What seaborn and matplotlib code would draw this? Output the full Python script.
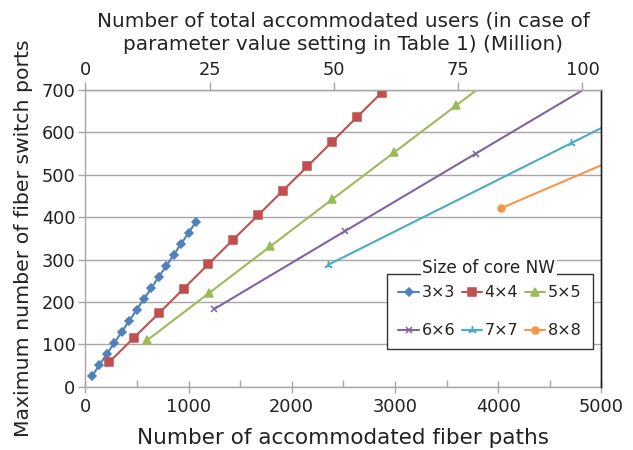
import seaborn as sns
import matplotlib.pyplot as plt
from matplotlib.ticker import MultipleLocator

# values (fiber paths, switch ports)
paths_3x3 = [64, 136, 208, 280, 352, 424, 496, 568, 640, 712, 784, 856, 928, 1000, 1072]
ports_3x3 = [25, 51, 77, 103, 129, 155, 181, 207, 233, 259, 285, 311, 337, 363, 389]
paths_4x4 = [232, 472, 712, 952, 1192, 1432, 1672, 1912, 2152, 2392, 2632, 2872]
ports_4x4 = [58, 116, 173, 231, 289, 347, 404, 462, 520, 578, 636, 694]
paths_5x5 = [596, 1194, 1792, 2392, 2994, 3596, 4196]
ports_5x5 = [109, 220, 331, 442, 553, 664, 775]
paths_6x6 = [1247, 2516, 3783, 5050]
ports_6x6 = [183, 367, 550, 733]
paths_7x7 = [2349, 4703, 7057]
ports_7x7 = [287, 574, 861]
paths_8x8 = [4028, 8056]
ports_8x8 = [421, 842]

series_names = ["3×3", "4×4", "5×5", "6×6", "7×7", "8×8"]
series_x = [paths_3x3, paths_4x4, paths_5x5, paths_6x6, paths_7x7, paths_8x8]
series_y = [ports_3x3, ports_4x4, ports_5x5, ports_6x6, ports_7x7, ports_8x8]
colors = ["#4F81BD", "#C0504D", "#9BBB59", "#8064A2", "#4BACC6", "#F79646"]
markers = ["D", "s", "^", "x", (3, 2, 0), "o"]
msizes = [3.8, 5.2, 5.5, 5, 6, 5]

sns.set_style("white")
plt.rcParams['font.family'] = ['DejaVu Sans']
text_color = "#222222"
grid_color = "#a6a6a6"

fig = plt.figure(figsize=(6.33, 4.5), dpi=100)
ax = fig.add_axes([0.1348, 0.1407, 0.8152, 0.6593])

for name, xs, ys, c, m, ms in zip(series_names, series_x, series_y, colors, markers, msizes):
    sns.lineplot(x=xs, y=ys, ax=ax, color=c, marker=m, markersize=ms, linewidth=1.5,
                 markeredgecolor=c, markeredgewidth=1.1, label=name, sort=False)

ax.set_xlim(0, 5000)
ax.set_ylim(0, 700)
ax.xaxis.set_major_locator(MultipleLocator(1000))
ax.xaxis.set_minor_locator(MultipleLocator(500))
ax.yaxis.set_major_locator(MultipleLocator(100))
ax.yaxis.grid(True, color=grid_color, linewidth=1)
ax.set_axisbelow(True)

for s in ["left", "bottom", "top"]:
    ax.spines[s].set_color(grid_color)
    ax.spines[s].set_linewidth(1)
ax.spines["right"].set_color("#222222")
ax.spines["right"].set_linewidth(1)

ax.tick_params(axis="x", which="major", direction="inout", length=9, width=1, color=grid_color,
               labelsize=12.8, labelcolor=text_color, pad=4)
ax.tick_params(axis="x", which="minor", direction="in", length=5, width=1, color=grid_color)
ax.tick_params(axis="y", which="major", direction="out", length=5, width=1, color=grid_color,
               labelsize=12.8, labelcolor=text_color, pad=2, left=True)
ax.tick_params(axis="x", bottom=True, which="both")

ax.set_xlabel("Number of accommodated fiber paths", fontsize=15.5, color=text_color, labelpad=8)
ax.set_ylabel("Maximum number of fiber switch ports", fontsize=14.7, color=text_color, labelpad=6)

# top axis: total accommodated users
ax2 = ax.twiny()
ax2.set_xlim(0, 103.8)
ax2.xaxis.set_major_locator(MultipleLocator(25))
ax2.tick_params(axis="x", direction="out", length=6, width=1, color=grid_color,
                labelsize=12.8, labelcolor=text_color, pad=2, top=True)
for s in ["left", "bottom"]:
    ax2.spines[s].set_visible(False)
ax2.spines["top"].set_color(grid_color)
ax2.spines["right"].set_color("#222222")
ax2.spines["right"].set_linewidth(1)
ax2.set_xlabel("Number of total accommodated users (in case of\nparameter value setting in Table 1) (Million)",
               fontsize=14.4, color=text_color, labelpad=8, linespacing=1.3)

# legend filled row by row like the original
handles, labels = ax.get_legend_handles_labels()
order = [0, 3, 1, 4, 2, 5]
leg = ax.legend([handles[i] for i in order], [labels[i] for i in order],
                ncol=3, loc="upper left", bbox_to_anchor=(0.585, 0.38),
                fontsize=11.5, frameon=True, fancybox=False, edgecolor="#333333", framealpha=1,
                handlelength=1.3, handletextpad=0.15, columnspacing=0.4, labelspacing=1.45,
                borderpad=0.7, borderaxespad=0)
leg.get_frame().set_linewidth(1)
for t in leg.get_texts():
    t.set_color(text_color)
leg.set_zorder(5)
ax.text(0.782, 0.400, "Size of core NW", transform=ax.transAxes, ha="center", va="center",
        fontsize=12.2, color=text_color, zorder=10,
        bbox=dict(facecolor="white", edgecolor="none", pad=1))

fig.savefig("out.png", dpi=100)
